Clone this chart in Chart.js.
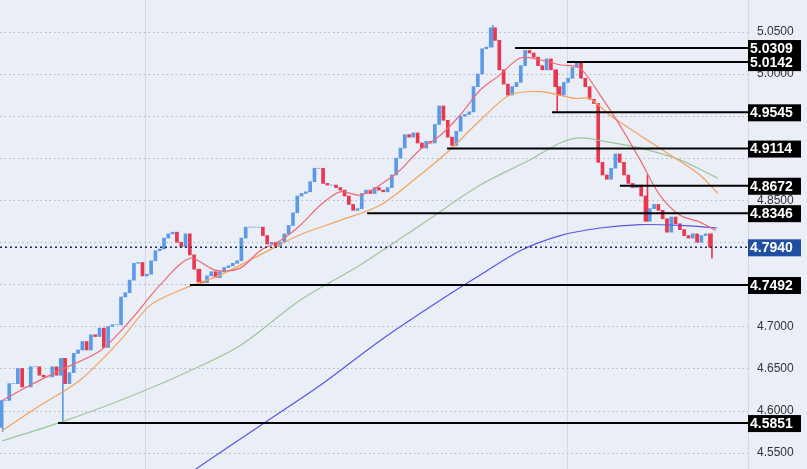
<!DOCTYPE html>
<html><head><meta charset="utf-8">
<script src="https://cdn.jsdelivr.net/npm/chart.js@4.4.1/dist/chart.umd.min.js"></script>
<style>html,body{margin:0;padding:0;background:#eaeef7;}#wrap{width:807px;height:469px;}</style>
</head><body><div id="wrap"><canvas id="c"></canvas></div>
<script>
const firstOpen = 4.580;
const closes = [4.612,4.612,4.632,4.632,4.650,4.628,4.628,4.652,4.652,4.642,4.640,4.640,4.652,4.642,4.662,4.632,4.645,4.668,4.672,4.682,
4.672,4.690,4.688,4.698,4.675,4.700,4.702,4.702,4.735,4.740,4.755,4.775,4.776,4.760,4.762,4.778,4.790,4.792,4.805,4.810,
4.812,4.800,4.795,4.810,4.785,4.768,4.753,4.752,4.760,4.765,4.758,4.765,4.770,4.772,4.775,4.778,4.805,4.818,4.818,4.818,
4.818,4.808,4.798,4.800,4.795,4.800,4.810,4.820,4.835,4.855,4.858,4.860,4.872,4.888,4.888,4.870,4.868,4.868,4.865,4.862,
4.855,4.845,4.838,4.840,4.858,4.862,4.858,4.865,4.862,4.860,4.865,4.880,4.900,4.912,4.928,4.925,4.930,4.918,4.912,4.920,
4.918,4.940,4.962,4.945,4.925,4.915,4.932,4.950,4.952,4.955,4.985,5.000,5.030,5.032,5.055,5.040,5.005,4.988,4.975,4.985,
4.990,5.010,5.028,5.025,5.020,5.010,5.005,5.018,5.005,4.985,4.975,4.990,4.995,5.008,5.014,4.995,4.985,4.970,4.965,4.895,
4.880,4.875,4.888,4.905,4.895,4.880,4.870,4.865,4.868,4.855,4.825,4.840,4.845,4.838,4.828,4.812,4.830,4.822,4.815,4.808,
4.805,4.810,4.800,4.808,4.810,4.794];
const wickIdx = [0,14,46,114,129,150,165];
const wickRange = [[4.575,4.612],[4.5851,4.662],[4.749,4.768],[5.032,5.058],[4.954,5.005],[4.825,4.880],[4.781,4.810]];
const maFast = [[0,4.612],[6.5,4.630],[13.5,4.648],[22.8,4.671],[29.8,4.707],[36.7,4.749],[43.7,4.781],[49.5,4.767],[55.3,4.769],[60,4.790],[64.7,4.802],[69.3,4.820],[74,4.844],[78.6,4.860],[83.3,4.856],[87.9,4.868],[92.6,4.886],[97.2,4.910],[101.9,4.927],[106.5,4.951],[111.2,4.981],[115.8,4.999],[120.5,5.019],[125.1,5.017],[129.8,5.011],[134.4,5.007],[139.1,4.975],[143.7,4.939],[148.4,4.898],[153,4.856],[157.7,4.832],[162.3,4.824],[166,4.814]];
const maMid = [[0,4.576],[8.8,4.606],[18.1,4.636],[27.4,4.683],[34.4,4.725],[41.4,4.743],[50.7,4.761],[60,4.785],[69.3,4.809],[78.6,4.826],[87.9,4.844],[97.2,4.880],[104.2,4.910],[111.2,4.945],[118.1,4.975],[125.1,4.979],[133.3,4.971],[136.7,4.971],[141.4,4.951],[148.4,4.927],[155.3,4.904],[162.3,4.880],[166.5,4.858]];
const maSlow = [[0,4.564],[13.5,4.586],[27.4,4.612],[41.4,4.642],[55.3,4.677],[69.3,4.731],[83.3,4.773],[97.2,4.820],[111.2,4.868],[122.8,4.898],[129.8,4.918],[134.4,4.924],[139.1,4.921],[148.4,4.912],[157.7,4.898],[166.5,4.876]];
const ma200 = [[44.9,4.530],[60,4.582],[74,4.630],[87.9,4.683],[101.9,4.731],[111.2,4.761],[120.5,4.790],[129.8,4.808],[139.1,4.817],[148.4,4.821],[157.7,4.820],[166.3,4.817]];
const levels = [5.0309,5.0142,4.9545,4.9114,4.8672,4.8346,4.7492,4.5851];
const levelStart = [119.3,131.4,127.9,103.5,143.7,84.9,43.7,13];
const currentPrice = 4.7940;
const tickLabels = ['5.0500','5.0000','4.8500','4.7000','4.6500','4.6000','4.5500'];
const gridValues = [5.05,5.0,4.95,4.9,4.85,4.8,4.75,4.7,4.65,4.6,4.55];
const vGridValues = [33.3,131.4];

const X_MIN=-0.5, X_MAX=173.5;
const UP='#5b9be6', DN='#e8374f';
const FONT='"Liberation Sans", Arial, sans-serif';
const opens = closes.map((c,i)=> i===0 ? firstOpen : closes[i-1]);
const bodies = closes.map((c,i)=>({x:i,y:[opens[i],c]}));
const bodyCol = closes.map((c,i)=> c>=opens[i]?UP:DN);
const wicks = wickIdx.map((i,k)=>({x:i,y:wickRange[k]}));
const wickCol = wickIdx.map(i=>bodyCol[i]);
const pts = a=>a.map(p=>({x:p[0],y:p[1]}));
const ds = [];
ds.push({type:'bar',data:wicks,backgroundColor:wickCol,barThickness:1,order:3});
ds.push({type:'bar',data:bodies,backgroundColor:bodyCol,barThickness:3,order:2});
[[maFast,'#ee6a72'],[maMid,'#f4a35a'],[maSlow,'#9cc79a'],[ma200,'#5a55e0']].forEach(([a,c])=>
  ds.push({type:'line',data:pts(a),borderColor:c,borderWidth:1.2,pointRadius:0,tension:0.3,order:1}));
levels.forEach((v,k)=>ds.push({type:'line',data:[{x:levelStart[k],y:v},{x:X_MAX,y:v}],borderColor:'#000',borderWidth:2,pointRadius:0,order:0}));
ds.push({type:'line',data:[{x:X_MIN,y:currentPrice},{x:X_MAX,y:currentPrice}],borderColor:'#1b2a55',borderWidth:1.5,borderDash:[2,3],pointRadius:0,order:0});

const labelPlugin={id:'lbl',
  beforeDatasetsDraw(ch){
    const c=ch.ctx,y=ch.scales.y,x=ch.scales.x,a=ch.chartArea;
    c.save();c.strokeStyle='#d3d8e4';c.lineWidth=1;
    vGridValues.forEach(v=>{const px=Math.round(x.getPixelForValue(v))+0.5;c.beginPath();c.moveTo(px,a.top);c.lineTo(px,a.bottom);c.stroke();});
    c.strokeStyle='#aeb6c6';c.setLineDash([1.5,3]);
    gridValues.forEach(v=>{const py=Math.round(y.getPixelForValue(v))+0.5;c.beginPath();c.moveTo(a.left,py);c.lineTo(a.right,py);c.stroke();});
    c.restore();
  },
  afterDraw(ch){
    const c=ch.ctx,y=ch.scales.y,x0=ch.chartArea.right;
    c.save();
    c.font='12px '+FONT;c.fillStyle='#333';c.textBaseline='middle';
    tickLabels.forEach(t=>c.fillText(t,x0+9,y.getPixelForValue(parseFloat(t))));
    c.font='bold 14px '+FONT;
    const draw=(v,bg)=>{const py=y.getPixelForValue(v);c.fillStyle=bg;c.fillRect(x0,py-8,53,17);c.fillStyle='#fff';c.fillText(v.toFixed(4),x0+2,py+1);};
    levels.forEach(v=>draw(v,'#000'));draw(currentPrice,'#1e4fa0');
    c.restore();}};

new Chart(document.getElementById('c'),{
  data:{datasets:ds},
  options:{responsive:true,maintainAspectRatio:false,animation:false,
    layout:{padding:0},
    plugins:{legend:{display:false},tooltip:{enabled:false}},
    scales:{
      x:{type:'linear',min:X_MIN,max:X_MAX,offset:false,
        afterFit:s=>{s.height=0;},
        ticks:{display:false},border:{display:false},
        grid:{display:false}},
      y:{position:'right',min:4.5305,max:5.088,
        afterBuildTicks:s=>{s.ticks=[];},
        afterFit:s=>{s.width=59;},
        ticks:{display:false},
        border:{display:true,color:'#d3d8e4'},
        grid:{display:false}}
    }},
  plugins:[labelPlugin]
});
</script></body></html>
